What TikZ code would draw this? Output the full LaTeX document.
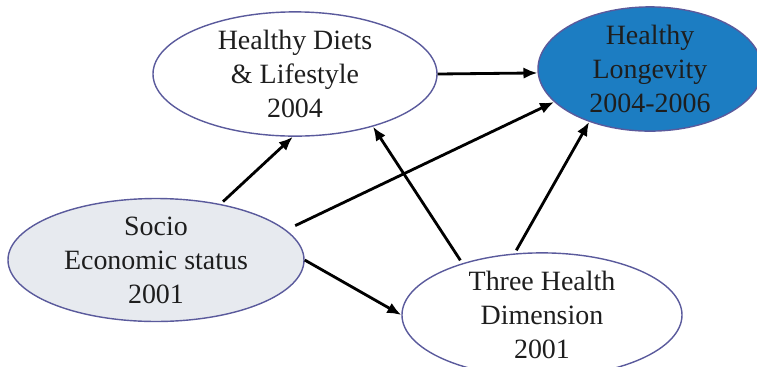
\documentclass[tikz,border=0pt]{standalone}
\usepackage{fontspec}
\setmainfont{Liberation Serif}
\usetikzlibrary{shapes.geometric,arrows.meta}
\definecolor{rimblue}{HTML}{5A5A9C}
\definecolor{longblue}{HTML}{1C7DC2}
\definecolor{sociogrey}{HTML}{E7EAEF}
\definecolor{txtgrey}{HTML}{1E1E1E}
\tikzset{
	oval/.style={draw=rimblue, line width=0.8pt, ellipse, inner sep=0pt, align=center,
		text=txtgrey, font=\fontsize{15.9}{19.4}\selectfont},
	link/.style={line width=1.6pt, -{Latex[length=8pt,width=6.5pt]}, shorten <=2pt}
}

\begin{document}
\begin{tikzpicture}
			%%%%% START %%%%%
			
			\useasboundingbox (0, 0) rectangle (15.14, -7.32);
			
			\node[oval, minimum width=5.68cm, minimum height=2.16cm] (diets) at (5.9, -1.48) {Healthy Diets\\\& Lifestyle\\2004};
			\node[oval, fill=longblue, minimum width=4.48cm, minimum height=2.36cm] (longev) at (13.0, -1.38) {Healthy\\Longevity\\2004-2006};
			\node[oval, fill=sociogrey, minimum width=5.92cm, minimum height=2.2cm] (socio) at (3.12, -5.2) {Socio\\Economic status\\2001};
			\node[oval, minimum width=5.6cm, minimum height=2.2cm] (three) at (10.84, -6.3) {Three Health\\Dimension\\2001};
			
			\draw[link] (socio.41) -- (diets.-92);
			\draw[link, shorten <=0.2cm] (socio.13) -- (longev.199);
			\draw[link, shorten <=0pt] (socio.0) -- (three.180);
			\draw[link] (three.147) -- (diets.-34);
			\draw[link] (three.114) -- (longev.221);
			\draw[link, shorten <=0pt] (diets.0) -- (longev.182);
			
			%%%%% END %%%%%
		\end{tikzpicture}
\end{document}
